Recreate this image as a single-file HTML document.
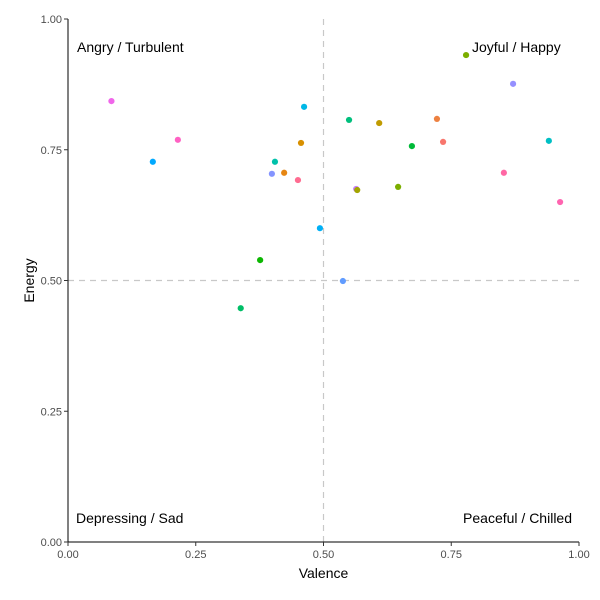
<!DOCTYPE html>
<html><head><meta charset="utf-8"><style>
body{margin:0;background:#fff;}
svg{display:block;font-family:"Liberation Sans",sans-serif;}
</style></head><body>
<svg id="chart" width="600" height="600">
<g id="grid"></g>
<g id="pts"></g>
<g id="axes"></g>
<text x="77" y="52" font-size="14" fill="#000">Angry / Turbulent</text>
<text x="472" y="52" font-size="14" fill="#000">Joyful / Happy</text>
<text x="76" y="523" font-size="14" fill="#000">Depressing / Sad</text>
<text x="572" y="523" font-size="14" fill="#000" text-anchor="end">Peaceful / Chilled</text>
<text x="323.5" y="578" font-size="14" text-anchor="middle">Valence</text>
<text transform="translate(34,280.5) rotate(-90)" font-size="14" text-anchor="middle">Energy</text>
</svg>
<script>
const valence=[0.085,0.166,0.215,0.338,0.376,0.462,0.456,0.405,0.399,0.423,0.450,0.550,0.609,0.722,0.734,0.673,0.646,0.564,0.566,0.493,0.538,0.779,0.871,0.941,0.853,0.963];
const energy=[0.843,0.727,0.769,0.447,0.539,0.832,0.763,0.727,0.704,0.706,0.692,0.807,0.801,0.809,0.765,0.757,0.679,0.675,0.673,0.600,0.499,0.931,0.876,0.767,0.706,0.650];
const colors=["#F066EA","#00A9FF","#FF61C3","#00BE67","#0CB702","#00B8E7","#D89000","#00C1AA","#8494FF","#E68613","#FF6C91","#00BF7D","#C09B00","#ED8141","#F8766D","#00BA38","#7CAE00","#C77CFF","#A3A500","#00B0F6","#619CFF","#7CAE00","#9590FF","#00BFC4","#FF67A4","#FF64B0"];
const ticks=[0,0.25,0.5,0.75,1];
const tickLabels=["0.00","0.25","0.50","0.75","1.00"];
const X0=68,X1=579,Y0=542,Y1=19;
const sx=v=>X0+v*(X1-X0), sy=v=>Y0-v*(Y0-Y1);
const NS="http://www.w3.org/2000/svg";
function mk(tag,attrs,parent){const e=document.createElementNS(NS,tag);for(const k in attrs)e.setAttribute(k,attrs[k]);parent.appendChild(e);return e;}
const grid=document.getElementById('grid'),pts=document.getElementById('pts'),axes=document.getElementById('axes');
let l=mk('line',{x1:sx(0.5),x2:sx(0.5),y1:Y1,y2:Y0,stroke:'#c8c8c8','stroke-dasharray':'6,5','stroke-width':1.2},grid);


l=mk('line',{x1:X0,x2:X1,y1:sy(0.5),y2:sy(0.5),stroke:'#c8c8c8','stroke-dasharray':'6,5','stroke-width':1.2},grid);


valence.forEach((v,i)=>{const c=mk('circle',{cx:sx(v),cy:sy(energy[i]),r:3.1,fill:colors[i]},pts);

});
l=mk('line',{x1:X0,x2:X0,y1:Y1,y2:Y0,stroke:'#000','stroke-width':1},axes);


l=mk('line',{x1:X0,x2:X1,y1:Y0,y2:Y0,stroke:'#000','stroke-width':1},axes);


ticks.forEach((t,i)=>{
 let a=mk('line',{x1:sx(t),x2:sx(t),y1:Y0,y2:Y0+4,stroke:'#333'},axes);
 
 
 let tx=mk('text',{x:sx(t),y:Y0+16,'font-size':11,'text-anchor':'middle',fill:'#4d4d4d'},axes);tx.textContent=tickLabels[i];
 
 
 a=mk('line',{x1:X0-4,x2:X0,y1:sy(t),y2:sy(t),stroke:'#333'},axes);
 
 
 tx=mk('text',{x:X0-6,y:sy(t)+4,'font-size':11,'text-anchor':'end',fill:'#4d4d4d'},axes);tx.textContent=tickLabels[i];
 
 
});
</script>
</body></html>
